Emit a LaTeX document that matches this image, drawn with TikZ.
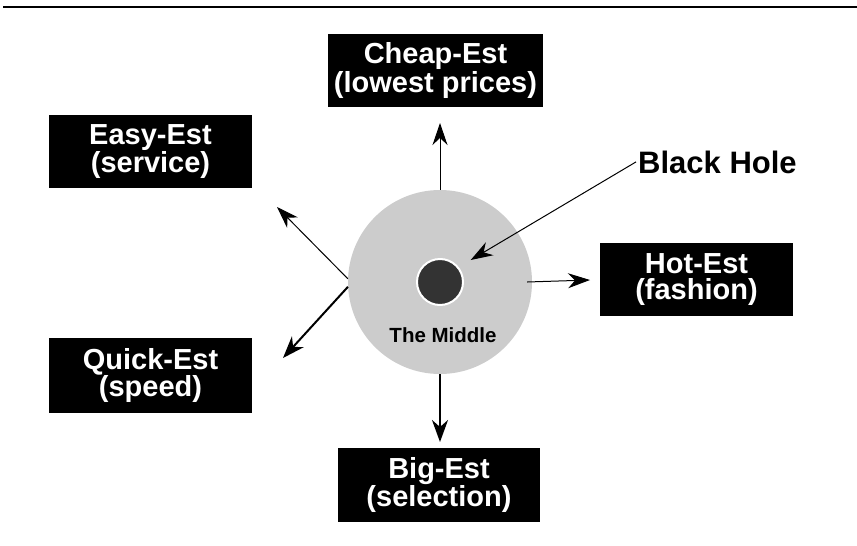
\documentclass[tikz,border=0pt]{standalone}
\usepackage{fontspec}
\setmainfont{Liberation Sans}
\usetikzlibrary{arrows.meta}
\definecolor{midgray}{HTML}{CCCCCC}
\definecolor{holegray}{HTML}{333333}
\begin{document}
\begin{tikzpicture}[x=1pt,y=-1pt,
  estbox/.style={fill=black, text=white, inner sep=0pt, align=center,
    font=\fontsize{29}{26.5}\selectfont\bfseries},
  thinarrow/.style={line width=1pt, -{Stealth[length=22pt,width=15pt,inset=7pt]}},
  thickarrow/.style={line width=2pt, -{Stealth[length=22pt,width=16pt,inset=7pt]}},
]
\useasboundingbox (0,0) rectangle (857,546);
% top rule
\coordinate (ruleL) at (3,6.5);
\coordinate (ruleR) at (857,6.5);
\draw[line width=2pt] (ruleL) -- (ruleR);

% boxes
\node[estbox, minimum width=215pt, minimum height=73pt] (cheap) at (435.5,70.5) {Cheap-Est\\(lowest prices)};
\node[estbox, minimum width=203pt, minimum height=73pt] (easy) at (150.5,151.5) {Easy-Est\\(service)};
\node[estbox, minimum width=203pt, minimum height=75pt] (quick) at (150.5,375.5) {Quick-Est\\(speed)};
\node[estbox, minimum width=193pt, minimum height=73pt] (hot) at (696.5,279.5) {Hot-Est\\(fashion)};
\node[estbox, minimum width=202pt, minimum height=74pt] (big) at (439,485) {Big-Est\\(selection)};

% middle
\node[circle, fill=midgray, minimum size=184pt, inner sep=0pt] (mid) at (440,282) {};
\node[circle, fill=holegray, draw=white, line width=2pt, minimum size=46pt, inner sep=0pt] (hole) at (440,282) {};
\node[anchor=base, inner sep=0pt, font=\fontsize{20.5}{24}\selectfont\bfseries] (midlabel) at (443,342.7) {The Middle};

% black hole label
\node[anchor=base west, inner sep=2pt, font=\fontsize{31}{34}\selectfont\bfseries] (bh) at (636,173) {Black Hole};

% arrow tips
\coordinate (uptip) at (440,123);
\coordinate (easytip) at (277,207);
\coordinate (quicktip) at (283,358);
\coordinate (downtip) at (440,442);
\coordinate (hottip) at (590,280);
\coordinate (bhtip) at (470.7,260);

\draw[thinarrow] (mid.north) -- (uptip);
\draw[thinarrow] (mid.178) -- (easytip);
\draw[thickarrow] (mid.183) -- (quicktip);
\draw[thickarrow] (mid.south) -- (downtip);
\draw[thinarrow] ([xshift=-5pt]mid.east) -- (hottip);
\draw[thinarrow] (bh.west) -- (bhtip);
\end{tikzpicture}
\end{document}
